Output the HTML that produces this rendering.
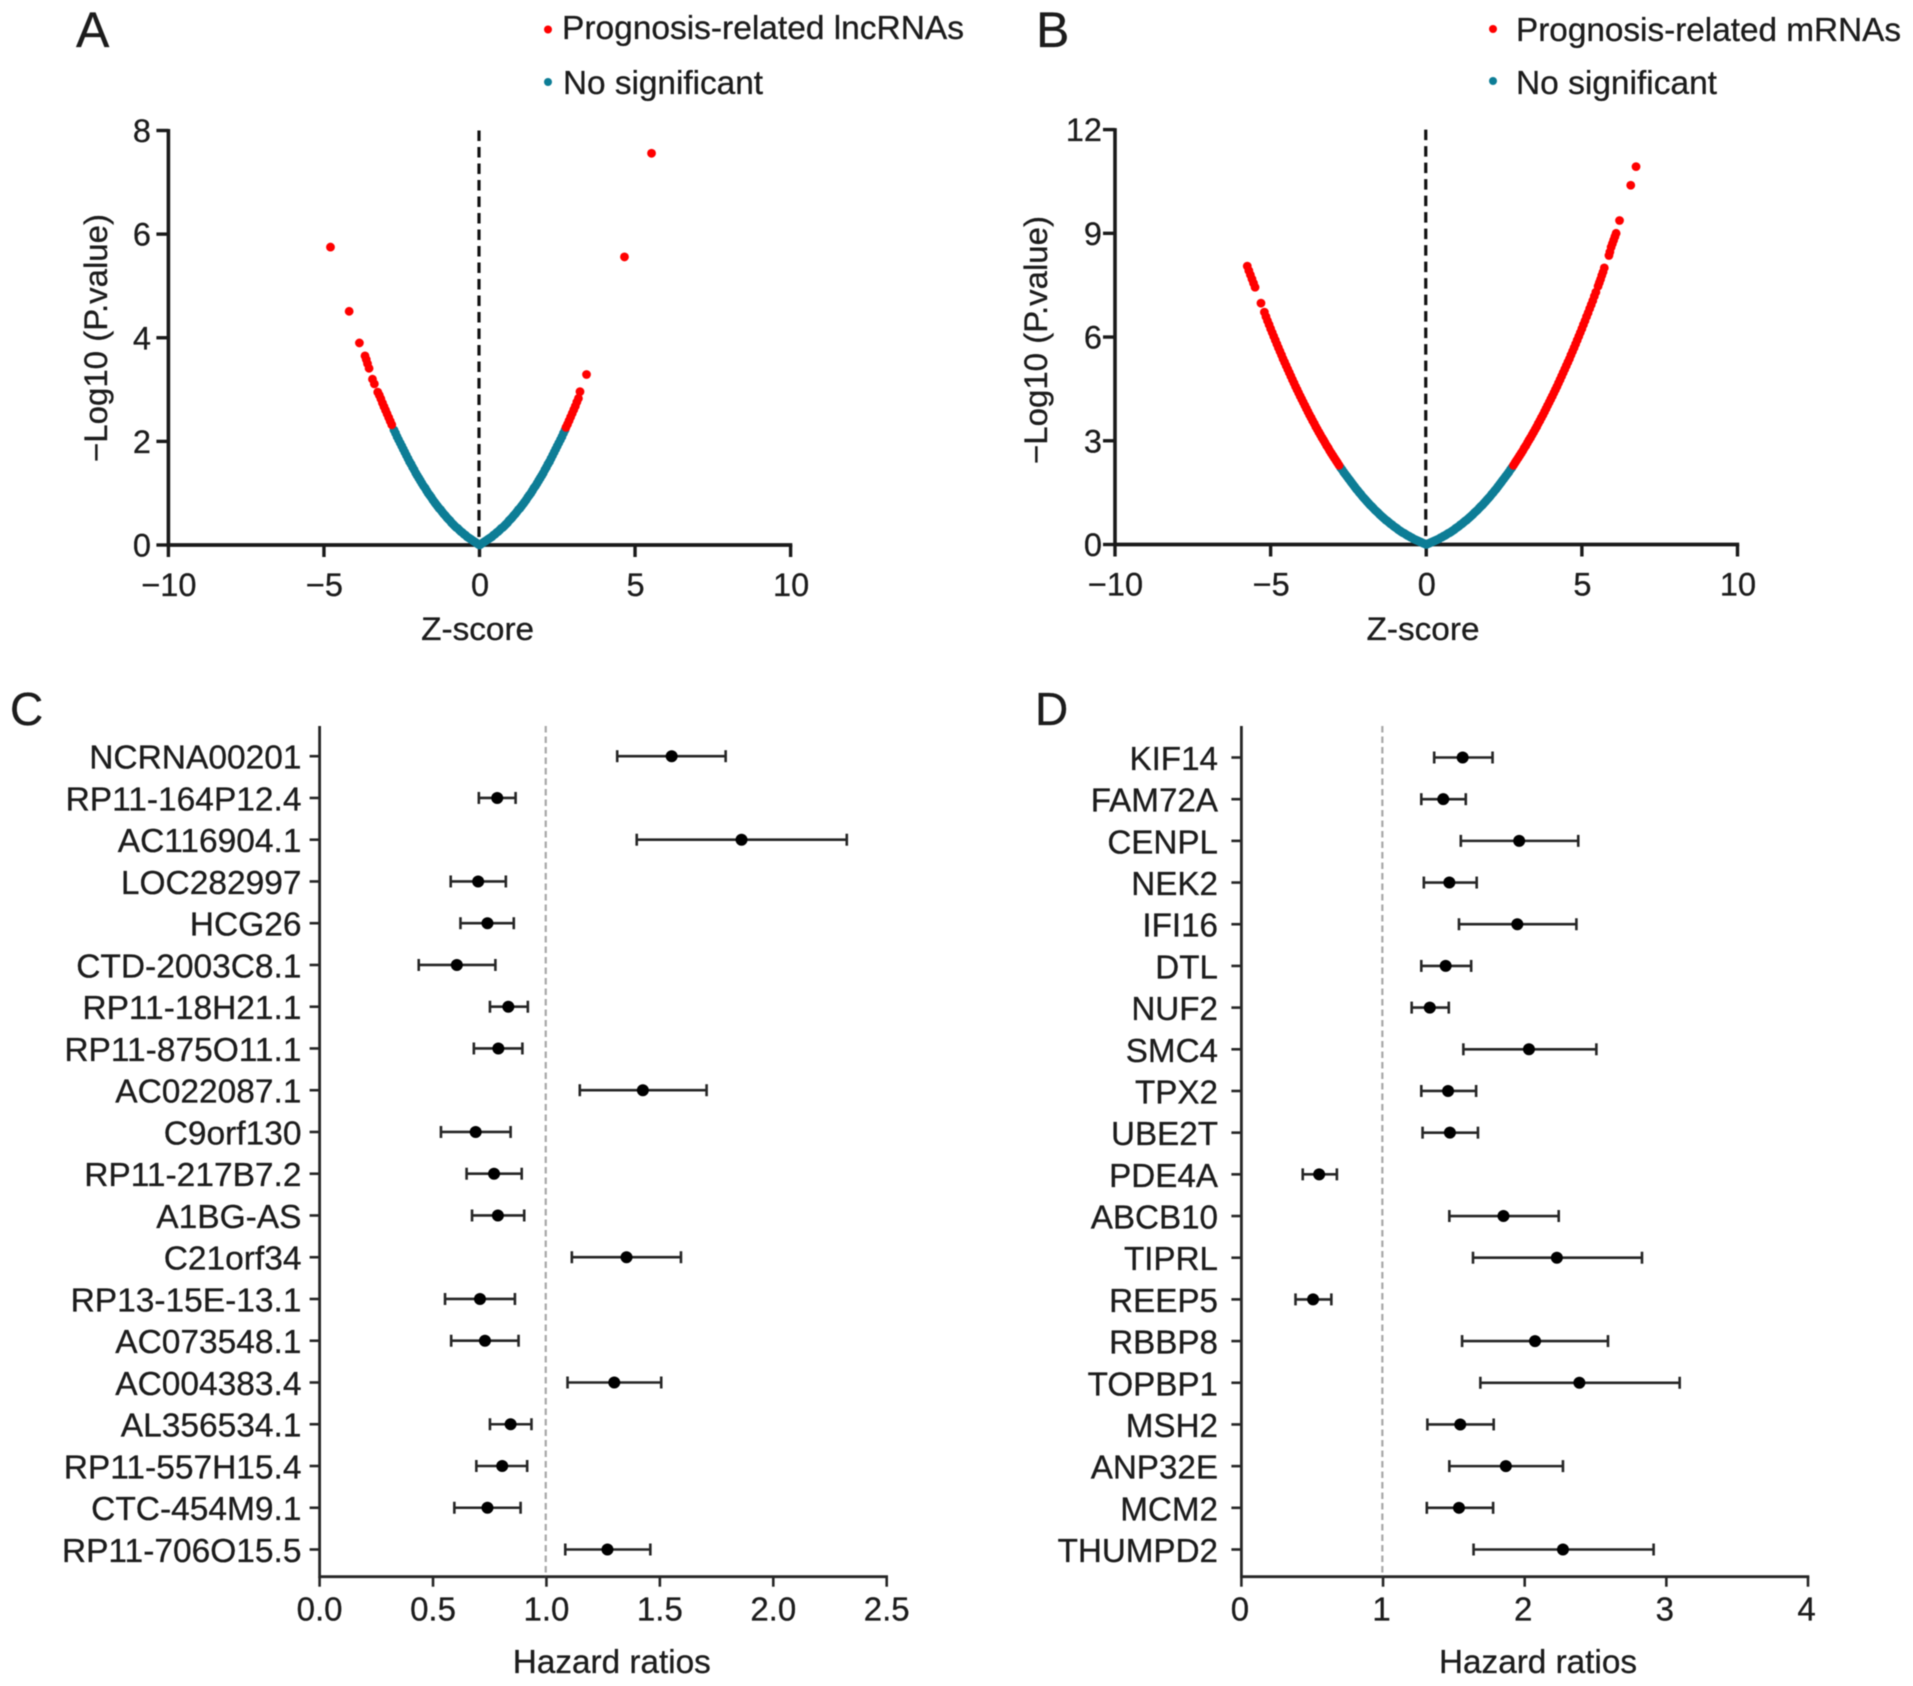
<!DOCTYPE html>
<html lang="en">
<head>
<meta charset="utf-8">
<title>Prognosis volcano and forest plots</title>
<style>
html,body{margin:0;padding:0;background:#fff;}
svg{display:block;filter:blur(0.5px);}
text{font-family:"Liberation Sans",Arial,sans-serif;fill:#1c1c1c;stroke:#1c1c1c;stroke-width:0.3px;}
</style>
</head>
<body>
<svg id="fig" xmlns="http://www.w3.org/2000/svg" width="1913" height="1686" viewBox="0 0 1913 1686">
  <rect x="0" y="0" width="1913" height="1686" fill="#fff"/>

  <g id="panelA">
    <text x="76" y="47" font-size="50">A</text>
    <circle cx="548" cy="29.5" r="4" fill="#ff0000"/>
    <text x="562" y="39" font-size="33" textLength="402" lengthAdjust="spacingAndGlyphs">Prognosis-related lncRNAs</text>
    <circle cx="548" cy="82" r="4" fill="#0d7d96"/>
    <text x="563" y="94" font-size="33" textLength="200" lengthAdjust="spacingAndGlyphs">No significant</text>
    <text transform="translate(107,338) rotate(-90)" text-anchor="middle" font-size="32" textLength="248" lengthAdjust="spacingAndGlyphs">−Log10 (P.value)</text>
    <text x="477.6" y="640" text-anchor="middle" font-size="32" textLength="113" lengthAdjust="spacingAndGlyphs">Z-score</text>
  </g>

  <g id="panelB">
    <text x="1036" y="47" font-size="50">B</text>
    <circle cx="1493" cy="29" r="4" fill="#ff0000"/>
    <text x="1516" y="41" font-size="33" textLength="385" lengthAdjust="spacingAndGlyphs">Prognosis-related mRNAs</text>
    <circle cx="1493" cy="81" r="4" fill="#0d7d96"/>
    <text x="1516" y="94" font-size="33" textLength="201" lengthAdjust="spacingAndGlyphs">No significant</text>
    <text transform="translate(1047,340) rotate(-90)" text-anchor="middle" font-size="32" textLength="248" lengthAdjust="spacingAndGlyphs">−Log10 (P.value)</text>
    <text x="1423" y="640" text-anchor="middle" font-size="32" textLength="113" lengthAdjust="spacingAndGlyphs">Z-score</text>
  </g>

  <g id="panelC">
    <text x="10" y="725" font-size="46">C</text>
    <text x="611.8" y="1673" text-anchor="middle" font-size="33" textLength="198" lengthAdjust="spacingAndGlyphs">Hazard ratios</text>
  </g>

  <g id="panelD">
    <text x="1035" y="725" font-size="46">D</text>
    <text x="1538" y="1673" text-anchor="middle" font-size="33" textLength="198" lengthAdjust="spacingAndGlyphs">Hazard ratios</text>
  </g>
</svg>

<script>
// ---------- Panel A data ----------
const zTicks = [-10, -5, 0, 5, 10];
const zTickLabels = ['−10', '−5', '0', '5', '10'];
const lncYTicks = [0, 2, 4, 6, 8];
const lncBlueZ = [-2.75,-2.7,-2.65,-2.6,-2.55,-2.5,-2.45,-2.4,-2.35,-2.3,-2.25,-2.2,-2.15,-2.1,-2.05,-2,-1.95,-1.9,-1.85,-1.8,-1.75,-1.7,-1.65,-1.6,-1.55,-1.5,-1.45,-1.4,-1.35,-1.3,-1.25,-1.2,-1.15,-1.1,-1.05,-1,-0.95,-0.9,-0.85,-0.8,-0.75,-0.7,-0.65,-0.6,-0.55,-0.5,-0.45,-0.4,-0.35,-0.3,-0.25,-0.2,-0.15,-0.1,-0.05,0,0.05,0.1,0.15,0.2,0.25,0.3,0.35,0.4,0.45,0.5,0.55,0.6,0.65,0.7,0.75,0.8,0.85,0.9,0.95,1,1.05,1.1,1.15,1.2,1.25,1.3,1.35,1.4,1.45,1.5,1.55,1.6,1.65,1.7,1.75,1.8,1.85,1.9,1.95,2,2.05,2.1,2.15,2.2,2.25,2.3,2.35,2.4,2.45,2.5,2.55,2.6,2.65,2.7,2.75];
const lncBlueY = [2.22,2.16,2.09,2.03,1.97,1.91,1.85,1.79,1.73,1.67,1.61,1.56,1.5,1.45,1.39,1.34,1.29,1.24,1.19,1.14,1.1,1.05,1,0.96,0.92,0.87,0.83,0.79,0.75,0.71,0.68,0.64,0.6,0.57,0.53,0.5,0.47,0.43,0.4,0.37,0.34,0.32,0.29,0.26,0.24,0.21,0.19,0.16,0.14,0.12,0.1,0.08,0.06,0.04,0.02,0,0.02,0.04,0.06,0.08,0.1,0.12,0.14,0.16,0.19,0.21,0.24,0.26,0.29,0.32,0.34,0.37,0.4,0.43,0.47,0.5,0.53,0.57,0.6,0.64,0.68,0.71,0.75,0.79,0.83,0.87,0.92,0.96,1,1.05,1.1,1.14,1.19,1.24,1.29,1.34,1.39,1.45,1.5,1.56,1.61,1.67,1.73,1.79,1.85,1.91,1.97,2.03,2.09,2.16,2.22];
const lncRedZ = [-4.79,-4.19,-3.86,-3.68,-3.64,-3.6,-3.55,-3.44,-3.38,-3.27,-3.22,-3.17,-3.12,-3.07,-3.02,-2.97,-2.92,-2.87,-2.82,5.53,4.66,3.44,3.23,3.18,3.13,3.08,3.03,2.98,2.93,2.88,2.83,2.78];
const lncRedY = [5.75,4.51,3.9,3.65,3.58,3.5,3.41,3.2,3.11,2.95,2.89,2.82,2.74,2.67,2.6,2.53,2.46,2.39,2.32,7.56,5.56,3.29,2.96,2.83,2.76,2.68,2.61,2.54,2.47,2.4,2.33,2.27];

// ---------- Panel B data ----------
const mrnaYTicks = [0, 3, 6, 9, 12];
const mrnaBlueZ = [-2.75,-2.7,-2.65,-2.6,-2.55,-2.5,-2.45,-2.4,-2.35,-2.3,-2.25,-2.2,-2.15,-2.1,-2.05,-2,-1.95,-1.9,-1.85,-1.8,-1.75,-1.7,-1.65,-1.6,-1.55,-1.5,-1.45,-1.4,-1.35,-1.3,-1.25,-1.2,-1.15,-1.1,-1.05,-1,-0.95,-0.9,-0.85,-0.8,-0.75,-0.7,-0.65,-0.6,-0.55,-0.5,-0.45,-0.4,-0.35,-0.3,-0.25,-0.2,-0.15,-0.1,-0.05,0,0.05,0.1,0.15,0.2,0.25,0.3,0.35,0.4,0.45,0.5,0.55,0.6,0.65,0.7,0.75,0.8,0.85,0.9,0.95,1,1.05,1.1,1.15,1.2,1.25,1.3,1.35,1.4,1.45,1.5,1.55,1.6,1.65,1.7,1.75,1.8,1.85,1.9,1.95,2,2.05,2.1,2.15,2.2,2.25,2.3,2.35,2.4,2.45,2.5,2.55,2.6,2.65,2.7,2.75];
const mrnaBlueY = [2.22,2.16,2.09,2.03,1.97,1.91,1.85,1.79,1.73,1.67,1.61,1.56,1.5,1.45,1.39,1.34,1.29,1.24,1.19,1.14,1.1,1.05,1,0.96,0.92,0.87,0.83,0.79,0.75,0.71,0.68,0.64,0.6,0.57,0.53,0.5,0.47,0.43,0.4,0.37,0.34,0.32,0.29,0.26,0.24,0.21,0.19,0.16,0.14,0.12,0.1,0.08,0.06,0.04,0.02,0,0.02,0.04,0.06,0.08,0.1,0.12,0.14,0.16,0.19,0.21,0.24,0.26,0.29,0.32,0.34,0.37,0.4,0.43,0.47,0.5,0.53,0.57,0.6,0.64,0.68,0.71,0.75,0.79,0.83,0.87,0.92,0.96,1,1.05,1.1,1.14,1.19,1.24,1.29,1.34,1.39,1.45,1.5,1.56,1.61,1.67,1.73,1.79,1.85,1.91,1.97,2.03,2.09,2.16,2.22];
const mrnaRedZ = [
 -5.75,-5.7,-5.65,-5.6,-5.55,-5.5,-5.31,-5.2,-5.15,-5.1,-5.05,-5,-4.95,-4.9,-4.85,-4.8,-4.75,-4.7,-4.65,-4.6,-4.55,-4.5,-4.45,-4.4,-4.35,-4.3,-4.25,-4.2,-4.15,-4.1,-4.05,-4,-3.95,-3.9,-3.85,-3.8,-3.75,-3.7,-3.65,-3.6,-3.55,-3.5,-3.45,-3.4,-3.35,-3.3,-3.25,-3.2,-3.15,-3.1,-3.05,-3,-2.95,-2.9,-2.85,-2.8,
 6.74,6.57,6.21,6.1,6.06,6.02,5.98,5.94,5.9,5.87,5.72,5.68,5.64,5.6,5.56,5.52,5.45,5.4,5.35,5.3,5.25,5.2,5.15,5.1,5.05,5,4.95,4.9,4.85,4.8,4.75,4.7,4.65,4.6,4.55,4.5,4.45,4.4,4.35,4.3,4.25,4.2,4.15,4.1,4.05,4,3.95,3.9,3.85,3.8,3.75,3.7,3.65,3.6,3.55,3.5,3.45,3.4,3.35,3.3,3.25,3.2,3.15,3.1,3.05,3,2.95,2.9,2.85,2.8];
const mrnaRedY = [
 8.05,7.92,7.8,7.68,7.56,7.44,6.98,6.72,6.59,6.47,6.36,6.24,6.13,6.02,5.91,5.8,5.69,5.585,5.48,5.37,5.27,5.17,5.07,4.97,4.87,4.77,4.67,4.57,4.48,4.385,4.29,4.2,4.11,4.02,3.93,3.84,3.75,3.67,3.58,3.5,3.41,3.33,3.25,3.17,3.09,3.02,2.94,2.86,2.79,2.71,2.64,2.57,2.5,2.43,2.36,2.29,
 10.93,10.39,9.37,9,8.9,8.8,8.7,8.6,8.46,8.36,8,7.88,7.78,7.67,7.57,7.47,7.3,7.18,7.05,6.935,6.82,6.7,6.59,6.47,6.36,6.24,6.13,6.02,5.91,5.8,5.69,5.585,5.48,5.37,5.27,5.17,5.07,4.97,4.87,4.77,4.67,4.57,4.48,4.385,4.29,4.2,4.11,4.02,3.93,3.84,3.75,3.67,3.58,3.5,3.41,3.33,3.25,3.17,3.09,3.02,2.94,2.86,2.79,2.71,2.64,2.57,2.5,2.43,2.36,2.29];

// ---------- Panel C data ----------
const cGenes = ['NCRNA00201','RP11-164P12.4','AC116904.1','LOC282997','HCG26','CTD-2003C8.1','RP11-18H21.1','RP11-875O11.1','AC022087.1','C9orf130','RP11-217B7.2','A1BG-AS','C21orf34','RP13-15E-13.1','AC073548.1','AC004383.4','AL356534.1','RP11-557H15.4','CTC-454M9.1','RP11-706O15.5'];
const cHR = [1.552,0.783,1.86,0.699,0.74,0.605,0.832,0.788,1.425,0.688,0.769,0.786,1.353,0.707,0.729,1.299,0.842,0.805,0.74,1.269];
const cLow = [1.312,0.702,1.398,0.578,0.621,0.437,0.751,0.68,1.147,0.535,0.648,0.672,1.112,0.553,0.58,1.093,0.751,0.691,0.594,1.083];
const cHigh = [1.79,0.864,2.324,0.821,0.856,0.775,0.918,0.894,1.706,0.842,0.891,0.902,1.593,0.861,0.877,1.506,0.934,0.915,0.886,1.458];
const cTicks = [0, 0.5, 1, 1.5, 2, 2.5];
const cTickLabels = ['0.0', '0.5', '1.0', '1.5', '2.0', '2.5'];

// ---------- Panel D data ----------
const dGenes = ['KIF14','FAM72A','CENPL','NEK2','IFI16','DTL','NUF2','SMC4','TPX2','UBE2T','PDE4A','ABCB10','TIPRL','REEP5','RBBP8','TOPBP1','MSH2','ANP32E','MCM2','THUMPD2'];
const dHR = [1.562,1.425,1.961,1.468,1.948,1.442,1.33,2.03,1.459,1.472,0.549,1.85,2.227,0.506,2.073,2.386,1.545,1.867,1.536,2.27];
const dLow = [1.361,1.27,1.549,1.288,1.536,1.27,1.202,1.567,1.27,1.279,0.433,1.468,1.635,0.382,1.558,1.687,1.313,1.468,1.309,1.639];
const dHigh = [1.773,1.584,2.378,1.661,2.365,1.622,1.464,2.506,1.657,1.67,0.674,2.24,2.828,0.635,2.588,3.094,1.781,2.27,1.777,2.91];
const dTicks = [0, 1, 2, 3, 4];
const dTickLabels = ['0', '1', '2', '3', '4'];

const NS = 'http://www.w3.org/2000/svg';
const INK = '#1a1a1a';

function make(parent, tag, attrs, content) {
  const node = document.createElementNS(NS, tag);
  for (const k in attrs) node.setAttribute(k, attrs[k]);
  if (content !== undefined) node.textContent = content;
  parent.appendChild(node);
  return node;
}

function scale(d0, d1, r0, r1) {
  return function (v) { return r0 + (v - d0) * (r1 - r0) / (d1 - d0); };
}

function drawVolcano(group, box, yTicks, blueZ, blueY, redZ, redY) {
  const sx = scale(-10, 10, box.left, box.right);
  const sy = scale(0, yTicks[yTicks.length - 1], box.bottom, box.top);

  const xAxis = make(group, 'line', {x1: box.left - 1.7, x2: box.right + 1.7, y1: box.bottom, y2: box.bottom, stroke: INK, 'stroke-width': 3.8});
  
  
  const yAxis = make(group, 'line', {x1: box.left, x2: box.left, y1: box.top - 1.5, y2: box.bottom, stroke: INK, 'stroke-width': 3.6});
  
  

  zTicks.forEach(function (t, i) {
    const tick = make(group, 'line', {x1: sx(t), x2: sx(t), y1: box.bottom, y2: box.bottom + 12, stroke: INK, 'stroke-width': 3.4});
    
    
    const label = make(group, 'text', {x: sx(t) + 0.5, y: box.bottom + 51, 'text-anchor': 'middle', 'font-size': 32.5}, zTickLabels[i]);
    
    
  });

  yTicks.forEach(function (t) {
    const tick = make(group, 'line', {x1: box.left - 12, x2: box.left, y1: sy(t), y2: sy(t), stroke: INK, 'stroke-width': 3.4});
    
    
    const label = make(group, 'text', {x: box.labelRight, y: sy(t) + 11.5, 'text-anchor': 'end', 'font-size': 32.5}, String(t));
    
    
  });

  const zeroLine = make(group, 'line', {x1: sx(0) - 0.5, x2: sx(0) - 0.5, y1: box.top, y2: box.bottom, stroke: '#111', 'stroke-width': 3.2, 'stroke-dasharray': '10.5 6'});
  
  

  blueZ.forEach(function (z, i) {
    const dot = make(group, 'circle', {cx: sx(z), cy: sy(blueY[i]), r: 4.4, fill: '#0d7d96'});
    
    
  });
  redZ.forEach(function (z, i) {
    const dot = make(group, 'circle', {cx: sx(z), cy: sy(redY[i]), r: 4.4, fill: '#ff0000'});
    
    
  });
}

function drawForest(group, box, ticks, tickLabels, genes, hr, low, high) {
  const sx = scale(ticks[0], ticks[ticks.length - 1], box.left, box.right);
  const sy = function (i) { return box.firstRow + i * (box.lastRow - box.firstRow) / (genes.length - 1); };
  const ink = '#262626';

  const yAxis = make(group, 'line', {x1: box.left, x2: box.left, y1: box.top, y2: box.bottom + 1.3, stroke: ink, 'stroke-width': 2.8});
  
  
  const xAxis = make(group, 'line', {x1: box.left, x2: box.right + 1.3, y1: box.bottom, y2: box.bottom, stroke: ink, 'stroke-width': 2.8});
  
  

  const refLine = make(group, 'line', {x1: sx(1) - 0.7, x2: sx(1) - 0.7, y1: box.top, y2: box.bottom, stroke: '#a8a8a8', 'stroke-width': 2.2, 'stroke-dasharray': '6.5 4'});
  
  

  ticks.forEach(function (t, i) {
    const tick = make(group, 'line', {x1: sx(t), x2: sx(t), y1: box.bottom, y2: box.bottom + 10, stroke: ink, 'stroke-width': 2.6});
    
    
    const label = make(group, 'text', {x: sx(t) + box.tickShift, y: box.bottom + 44, 'text-anchor': 'middle', 'font-size': 33}, tickLabels[i]);
    
    
  });

  genes.forEach(function (gene, i) {
    const y = sy(i);
    const tick = make(group, 'line', {x1: box.left - 10, x2: box.left, y1: y, y2: y, stroke: ink, 'stroke-width': 2.6});
    
    
    const label = make(group, 'text', {x: box.labelRight, y: y + 12.5, 'text-anchor': 'end', 'font-size': box.labelSize}, gene);
    
    
    const bar = make(group, 'line', {x1: sx(low[i]), x2: sx(high[i]), y1: y, y2: y, stroke: ink, 'stroke-width': 2.6});
    
    
    const capLow = make(group, 'line', {x1: sx(low[i]), x2: sx(low[i]), y1: y - 6, y2: y + 6, stroke: ink, 'stroke-width': 2.6});
    
    
    const capHigh = make(group, 'line', {x1: sx(high[i]), x2: sx(high[i]), y1: y - 6, y2: y + 6, stroke: ink, 'stroke-width': 2.6});
    
    
    const dot = make(group, 'circle', {cx: sx(hr[i]), cy: y, r: 6, fill: '#000'});
    
    
  });
}

drawVolcano(document.getElementById('panelA'), {left: 168.4, right: 790.6, top: 130.5, bottom: 545, labelRight: 151}, lncYTicks, lncBlueZ, lncBlueY, lncRedZ, lncRedY);
drawVolcano(document.getElementById('panelB'), {left: 1115, right: 1737.5, top: 129.6, bottom: 544.5, labelRight: 1102}, mrnaYTicks, mrnaBlueZ, mrnaBlueY, mrnaRedZ, mrnaRedY);
drawForest(document.getElementById('panelC'), {left: 319.6, right: 886.7, top: 726, bottom: 1576.7, firstRow: 756.2, lastRow: 1549.5, labelRight: 301.5, labelSize: 33.5, tickShift: 0}, cTicks, cTickLabels, cGenes, cHR, cLow, cHigh);
drawForest(document.getElementById('panelD'), {left: 1241.4, right: 1808, top: 726, bottom: 1576.7, firstRow: 757.5, lastRow: 1549.5, labelRight: 1218, labelSize: 33.2, tickShift: -1.5}, dTicks, dTickLabels, dGenes, dHR, dLow, dHigh);
</script>
</body>
</html>
